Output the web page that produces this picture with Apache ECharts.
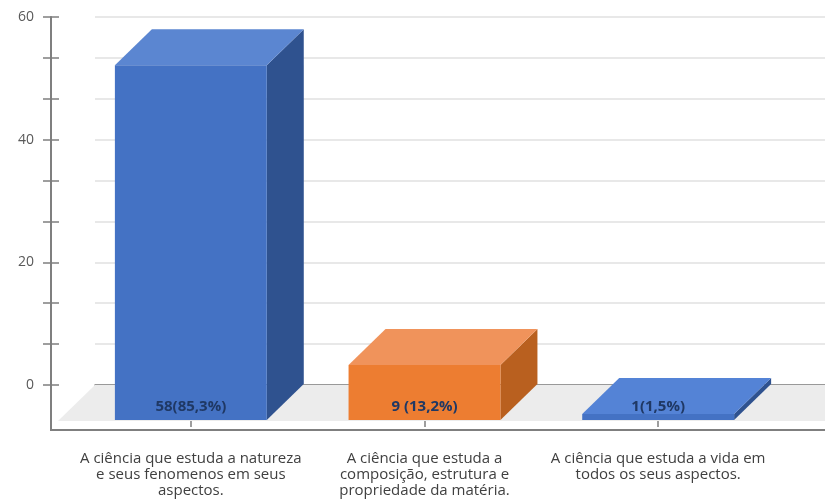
<!DOCTYPE html>
<html>
<head>
<meta charset="utf-8">
<script src="https://cdn.jsdelivr.net/npm/echarts@6/dist/echarts.min.js"></script>
<style>
  html, body { margin: 0; padding: 0; background: #ffffff; }
  #chart { width: 825px; height: 499px; }
</style>
</head>
<body>
<div id="chart"></div>
<script>
// Answers per category
const categories = [
  'A ciência que estuda a natureza\ne seus fenomenos em seus\naspectos.',
  'A ciência que estuda a\ncomposição, estrutura e\npropriedade da matéria.',
  'A ciência que estuda a vida em\ntodos os seus aspectos.'
];
const counts = [58, 9, 1];
const valueLabels = ['58(85,3%)', '9 (13,2%)', '1(1,5%)'];

// Value axis range
const yMin = 0;
const yMax = 60;
const yStep = 20;

// Shading for each bar: front face, top face, side face
const barShades = [
  { front: '#4472c4', top: '#5b86d1', side: '#2f528f' },
  { front: '#ed7d31', top: '#f0935b', side: '#b9601f' },
  { front: '#4472c4', top: '#5483d6', side: '#2f528f' }
];

// 3D look: offset from the front plane to the back wall
const DEPTH = [37, -36];
const BAR_RATIO = 0.65;
const AXIS_OFFSET = 44;
const BASELINE_DROP = 45;

const chart = echarts.init(document.getElementById('chart'));

const frameColor = '#7f7f7f';

chart.setOption({
  animation: false,
  backgroundColor: '#ffffff',
  grid: [
    // back wall
    { left: 95, right: 0, top: 17, bottom: 114 },
    // front plane of the bars
    { left: 74, right: 50, top: 53, bottom: 78 }
  ],
  xAxis: [
    {
      gridIndex: 0, type: 'value', min: 0, max: 1,
      axisLine: { show: true, lineStyle: { color: frameColor, width: 1.5 } },
      axisTick: { show: false }, axisLabel: { show: false }, splitLine: { show: false }
    },
    {
      gridIndex: 1, type: 'category', data: categories, boundaryGap: true,
      offset: 9,
      axisLine: { show: false },
      axisTick: { show: true, alignWithLabel: true, length: 7, lineStyle: { color: frameColor, width: 1.5 } },
      axisLabel: {
        interval: 0, margin: 22, lineHeight: 16,
        fontFamily: 'Open Sans', fontSize: 15, color: '#404040'
      }
    }
  ],
  yAxis: [
    // gridlines on the back wall
    {
      gridIndex: 0, type: 'value', min: yMin, max: yMax, interval: yStep,
      axisLine: { show: false }, axisTick: { show: false }, axisLabel: { show: false },
      splitLine: { show: true, lineStyle: { color: '#e1e1e1', width: 1.5 } },
      minorTick: { show: false, splitNumber: 3 },
      minorSplitLine: { show: true, lineStyle: { color: '#e1e1e1', width: 1.5 } }
    },
    // visible value axis, outer ticks and labels
    {
      gridIndex: 0, type: 'value', min: yMin, max: yMax, interval: yStep,
      position: 'left', offset: AXIS_OFFSET,
      axisLine: { show: true, lineStyle: { color: frameColor, width: 2 } },
      axisTick: { show: true, length: 8, lineStyle: { color: frameColor, width: 1.5 } },
      minorTick: { show: true, splitNumber: 3, length: 8, lineStyle: { color: frameColor, width: 1.5 } },
      axisLabel: { margin: 17, fontFamily: 'Open Sans', fontSize: 14, color: '#595959' },
      splitLine: { show: false }
    },
    // inner half of the crossing ticks
    {
      gridIndex: 0, type: 'value', min: yMin, max: yMax, interval: yStep,
      position: 'left', offset: AXIS_OFFSET,
      axisLine: { show: false },
      axisTick: { show: true, inside: true, length: 8, lineStyle: { color: frameColor, width: 1.5 } },
      minorTick: { show: true, splitNumber: 3, length: 8, lineStyle: { color: frameColor, width: 1.5 } },
      axisLabel: { show: false },
      splitLine: { show: false }
    },
    // scale for the bars in the front plane
    {
      gridIndex: 1, type: 'value', min: yMin, max: yMax, interval: yStep,
      show: false, splitLine: { show: false }
    }
  ],
  series: [
    {
      // floor, lower part of the value axis and the front baseline
      type: 'custom',
      xAxisIndex: 0,
      yAxisIndex: 0,
      z: 1,
      silent: true,
      data: [[0, yMin]],
      renderItem: function (params, api) {
        const back = api.coord([0, yMin]);
        const right = api.getWidth();
        const frontY = back[1] - DEPTH[1];
        const frontLeft = back[0] - DEPTH[0];
        const axisX = back[0] - AXIS_OFFSET;
        const baseY = back[1] + BASELINE_DROP;
        return {
          type: 'group',
          children: [
            {
              type: 'polygon',
              shape: { points: [[back[0], back[1]], [right, back[1]], [right, frontY], [frontLeft, frontY]] },
              style: { fill: '#ececec' }
            },
            {
              type: 'line',
              shape: { x1: axisX, y1: back[1], x2: axisX, y2: baseY },
              style: { stroke: frameColor, lineWidth: 2 }
            },
            {
              type: 'line',
              shape: { x1: axisX - 1, y1: baseY, x2: right, y2: baseY },
              style: { stroke: frameColor, lineWidth: 2 }
            }
          ]
        };
      }
    },
    {
      // 3D bars
      type: 'custom',
      xAxisIndex: 1,
      yAxisIndex: 3,
      z: 3,
      data: counts.map(function (v, i) { return [i, v]; }),
      renderItem: function (params, api) {
        const i = api.value(0);
        const v = api.value(1);
        const base = api.coord([i, yMin]);
        const top = api.coord([i, v]);
        const bw = api.size([1, 0])[0] * BAR_RATIO;
        const x0 = base[0] - bw / 2;
        const x1 = base[0] + bw / 2;
        const yb = base[1];
        const yt = top[1];
        const dx = DEPTH[0], dy = DEPTH[1];
        const shade = barShades[params.dataIndex];
        return {
          type: 'group',
          children: [
            {
              type: 'polygon',
              shape: { points: [[x1, yt], [x1 + dx, yt + dy], [x1 + dx, yb + dy], [x1, yb]] },
              style: { fill: shade.side }
            },
            {
              type: 'polygon',
              shape: { points: [[x0, yt], [x0 + dx, yt + dy], [x1 + dx, yt + dy], [x1, yt]] },
              style: { fill: shade.top }
            },
            {
              type: 'rect',
              shape: { x: x0, y: yt, width: bw, height: yb - yt },
              style: { fill: shade.front }
            },
            {
              type: 'text',
              z2: 10,
              style: {
                x: base[0], y: yb - 13,
                text: valueLabels[params.dataIndex],
                align: 'center', verticalAlign: 'middle',
                fontFamily: 'Open Sans', fontSize: 15, fontWeight: 'bold',
                fill: '#1f3864'
              }
            }
          ]
        };
      }
    }
  ]
});
</script>
</body>
</html>
